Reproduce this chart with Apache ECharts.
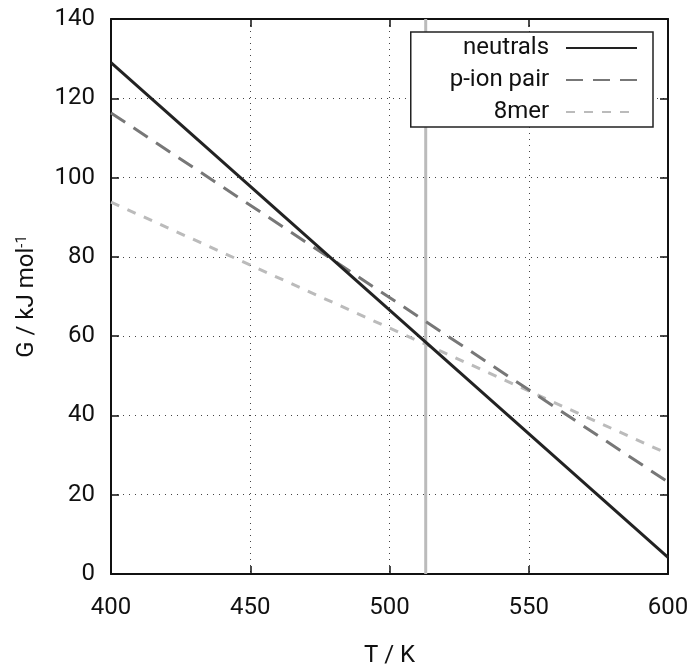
<!DOCTYPE html>
<html><head><meta charset="utf-8">
<script src="https://cdn.jsdelivr.net/npm/echarts@6/dist/echarts.min.js"></script>
<style>html,body{margin:0;padding:0;background:#fff}#c{width:693px;height:666px}</style>
</head><body><div id="c"></div>
<script>
const temps = [400, 600];
const neutrals = [129.0, 4.2];
const pIonPair = [116.3, 23.2];
const mer8 = [93.8, 30.3];
const markerT = 513;
const yRange = [0, 140];
const xTicks = [400, 450, 500, 550, 600];

const pairs = (ys) => temps.map((t, i) => [t, ys[i]]);
const font = 'Roboto';
const fs = 24;

const chart = echarts.init(document.getElementById('c'));
const axBase = {
  axisLine: {show: true, onZero: false, lineStyle: {color: '#111', width: 2}},
  axisTick: {show: true, inside: true, length: 8, lineStyle: {color: '#111', width: 1.5}},
};
chart.setOption({
  animation: false,
  grid: {left: 111, right: 25, top: 19, bottom: 92, outerBoundsMode: 'none', containLabel: false},
  legend: {
    right: 40, top: 32, orient: 'vertical', align: 'right',
    backgroundColor: '#fff', borderColor: '#222', borderWidth: 1.5,
    padding: [4, 15, 3, 39], itemGap: 8, itemWidth: 71, itemHeight: 14,
    formatter: (n) => n + '  ',
    itemStyle: {opacity: 0},
    textStyle: {fontFamily: font, fontSize: fs, color: '#111'},
    data: ['neutrals', 'p-ion pair', '8mer']
  },
  xAxis: [
    Object.assign({}, axBase, {
      type: 'value', min: 400, max: 600, interval: 50, position: 'bottom',
      name: 'T / K', nameLocation: 'middle', nameGap: 70,
      nameTextStyle: {fontFamily: font, fontSize: fs, color: '#111'},
      axisLabel: {fontFamily: font, fontSize: fs, color: '#111', margin: 22},
      splitLine: {show: true, lineStyle: {type: [1, 5], color: '#444', width: 1}}
    }),
    Object.assign({}, axBase, {
      type: 'value', min: 400, max: 600, interval: 50, position: 'top',
      axisLabel: {show: false}, splitLine: {show: false}
    })
  ],
  yAxis: [
    Object.assign({}, axBase, {
      type: 'value', min: yRange[0], max: yRange[1], interval: 20, position: 'left',
      name: 'G / kJ mol{sup|-1}', nameLocation: 'middle', nameGap: 72,
      nameTextStyle: {fontFamily: font, fontSize: fs, color: '#111',
        rich: {sup: {fontFamily: font, fontSize: 15, color: '#111', verticalAlign: 'top', lineHeight: 16}}},
      axisLabel: {fontFamily: font, fontSize: fs, color: '#111', margin: 16},
      splitLine: {show: true, lineStyle: {type: [1, 5], color: '#444', width: 1}}
    }),
    Object.assign({}, axBase, {
      type: 'value', min: yRange[0], max: yRange[1], interval: 20, position: 'right',
      axisLabel: {show: false}, splitLine: {show: false}
    })
  ],
  series: [
    {type: 'line', name: 'marker', data: [[markerT, yRange[0]], [markerT, yRange[1]]],
     symbol: 'none', lineStyle: {color: '#bbbbbb', width: 3}, z: 1, silent: true},
    {type: 'line', name: 'neutrals', data: pairs(neutrals), symbol: 'none',
     lineStyle: {color: '#222', width: 3}, itemStyle: {color: '#222'}, z: 4},
    {type: 'line', name: 'p-ion pair', data: pairs(pIonPair), symbol: 'none',
     lineStyle: {color: '#777', width: 3, type: [17, 10]}, itemStyle: {color: '#777'}, z: 3},
    {type: 'line', name: '8mer', data: pairs(mer8), symbol: 'none',
     lineStyle: {color: '#bbb', width: 3, type: [9, 9]}, itemStyle: {color: '#bbb'}, z: 2}
  ]
});
</script></body></html>
